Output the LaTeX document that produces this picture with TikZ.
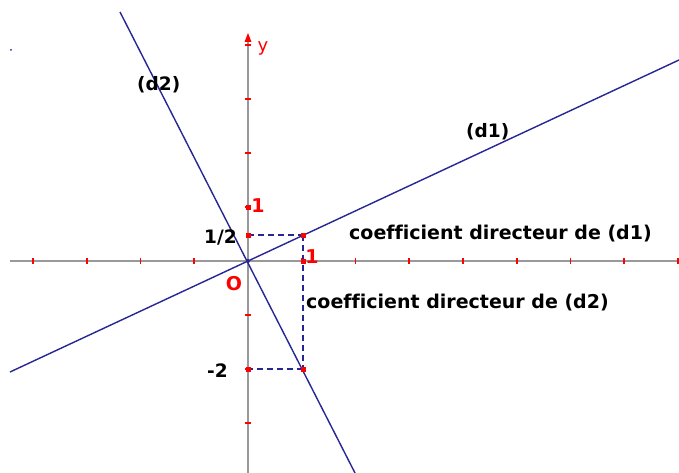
\documentclass[tikz,border=0pt]{standalone}
\usepackage{fontspec}
\setmainfont[Ligatures=NoCommon]{DejaVu Sans}
\begin{document}
\begin{tikzpicture}[x=1pt,y=-1pt,
  axis/.style={draw=gray!80,line width=1.6pt},
  dline/.style={draw=navy,line width=1.4pt},
  guide/.style={draw=navy,line width=1.2pt,dash pattern=on 6pt off 4pt},
  tickmark/.style={draw=red,line width=1.6pt},
  reddot/.style={fill=red},
  lab/.style={inner sep=0pt,font=\fontsize{18.5}{18.5}\selectfont\bfseries,text=black},
  clab/.style={inner sep=0pt,font=\fontsize{19}{19}\selectfont\bfseries,text=black},
  rlab/.style={inner sep=0pt,font=\fontsize{19}{19}\selectfont\bfseries,text=red}]
\definecolor{navy}{RGB}{38,38,150}
\fill[white] (0,0) rectangle (679,473);
\useasboundingbox (0,0) rectangle (679,473);
% key points
\coordinate (O) at (248,261);
\coordinate (xl) at (10,261);
\coordinate (xr) at (679,261);
\coordinate (yb) at (248,473);
\coordinate (yt) at (248,36);
\coordinate (A) at (303,235);
\coordinate (B) at (248,235);
\coordinate (C) at (303,369);
\coordinate (D) at (248,369);
\coordinate (d1s) at (10,372);
\coordinate (d1e) at (679,60);
\coordinate (d2s) at (120,12);
\coordinate (d2e) at (355,473);
% axes
\draw[axis] (xl) -- (xr);
\draw[axis] (yb) -- (yt);
% ticks x
\foreach \k in {-4,-3,-2,-1,1,2,3,4,5,6,7,8}
  \draw[tickmark] ({248+53.75*\k},258) -- ({248+53.75*\k},264);
% ticks y
\foreach \k in {-3,-2,-1,1,2,3,4}
  \draw[tickmark] (245,{261-54*\k}) -- (251,{261-54*\k});
% arrow of y axis
\fill[red] (244.5,42) -- (248,33) -- (251.5,42) -- cycle;
% lines
\draw[dline] (d1s) -- (d1e);
\draw[dline] (d2s) -- (d2e);
% dashed guides
\draw[guide] (B) -- (A);
\draw[guide] (A) -- (C);
\draw[guide] (C) -- (D);
% red points
\foreach \p in {(248,207),(303,261),(248,235),(248,369),(303,235),(303,369)}
  \fill[reddot] \p ++(-2.5,-2.5) rectangle ++(5,5);
\fill[navy] (O) circle (2pt);
\fill[navy] (11,50) circle (1pt);
% labels
\node[lab,anchor=base west] (ld2) at (137,91) {(d2)};
\node[lab,anchor=base west] (ld1) at (466,138) {(d1)};
\node[lab,anchor=base west] (lhalf) at (204,243) {1/2};
\node[lab,anchor=base west] (lm2) at (207,377) {-2};
\node[clab,anchor=base west] (c1) at (349,239) {coefficient directeur de (d1)};
\node[clab,anchor=base west] (c2) at (306,308) {coefficient directeur de (d2)};
\node[rlab,anchor=base] (ry1) at (258,212) {1};
\node[rlab,anchor=base] (rx1) at (312,263) {1};
\node[rlab,anchor=base] (rO) at (234,290) {O};
\node[inner sep=0pt,text=red,font=\fontsize{18}{18}\selectfont] (ly) at (263,48) {y};
\end{tikzpicture}
\end{document}
